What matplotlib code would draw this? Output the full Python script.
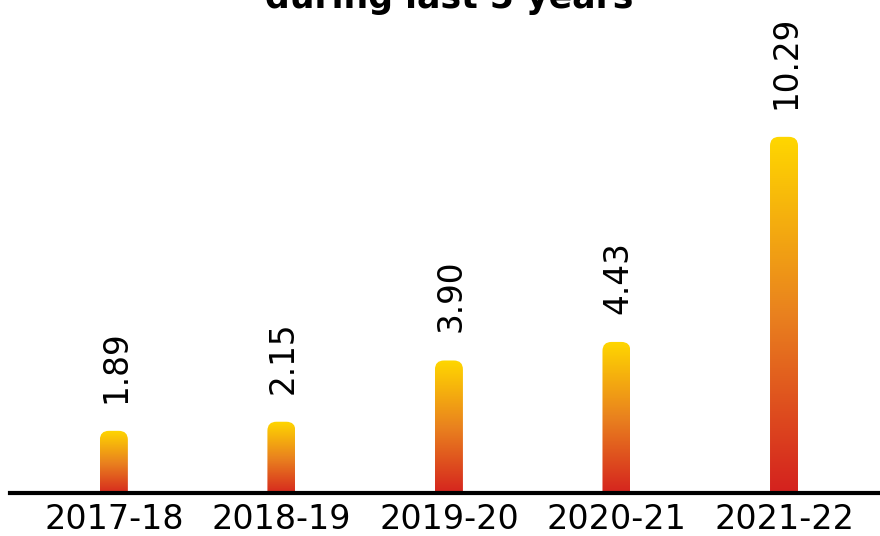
import numpy as np
import matplotlib.pyplot as plt
from matplotlib.colors import LinearSegmentedColormap
from matplotlib.patches import FancyBboxPatch

years = ['2017-18', '2018-19', '2019-20', '2020-21', '2021-22']
values = [1.89, 2.15, 3.90, 4.43, 10.29]
labels = ['1.89', '2.15', '3.90', '4.43', '10.29']

fig = plt.figure(figsize=(8.8, 5.36), dpi=100)
ax = fig.add_axes([10 / 880, 43 / 536, 870 / 880, 493 / 536])

ymin, ymax = 0.114, 14.2
xmin, xmax = -0.62, 4.573
ax.set_xlim(xmin, xmax)
ax.set_ylim(ymin, ymax)

cmap = LinearSegmentedColormap.from_list('fire', ['#d41f1e', '#e9801f', '#ffd700'])
grad = np.linspace(0, 1, 256).reshape(-1, 1)

bar_w = 0.167
# aspect between y units per pixel and x units per pixel, for round corners
px_x = (xmax - xmin) / 870
px_y = (ymax - ymin) / 493
aspect = px_y / px_x
r = 9 * px_x

for i, v in enumerate(values):
    x0 = i - bar_w / 2
    patch = FancyBboxPatch((x0, -1), bar_w, v + 1,
                           boxstyle=f'round,pad=0,rounding_size={r}',
                           mutation_aspect=aspect,
                           facecolor='none', edgecolor='none')
    ax.add_patch(patch)
    im = ax.imshow(grad, cmap=cmap, origin='lower', aspect='auto',
                   extent=[x0, x0 + bar_w, 0, v], interpolation='bicubic')
    im.set_clip_path(patch)
    ax.text(i + 0.01, v + 0.8, labels[i], rotation=90, ha='center', va='bottom',
            fontsize=23.5)

ax.set_xlim(xmin, xmax)
ax.set_ylim(ymin, ymax)
ax.set_xticks(range(len(years)))
ax.set_xticklabels(years, fontsize=24)
ax.tick_params(axis='x', length=0, pad=7)
ax.set_yticks([])
for s in ['top', 'right', 'left']:
    ax.spines[s].set_visible(False)
ax.spines['bottom'].set_linewidth(3)

fig.text(449 / 880, 1 - 8 / 536, 'during last 5 years', ha='center',
         va='baseline', fontsize=25, fontweight='bold')

fig.savefig('out.png', dpi=100)
